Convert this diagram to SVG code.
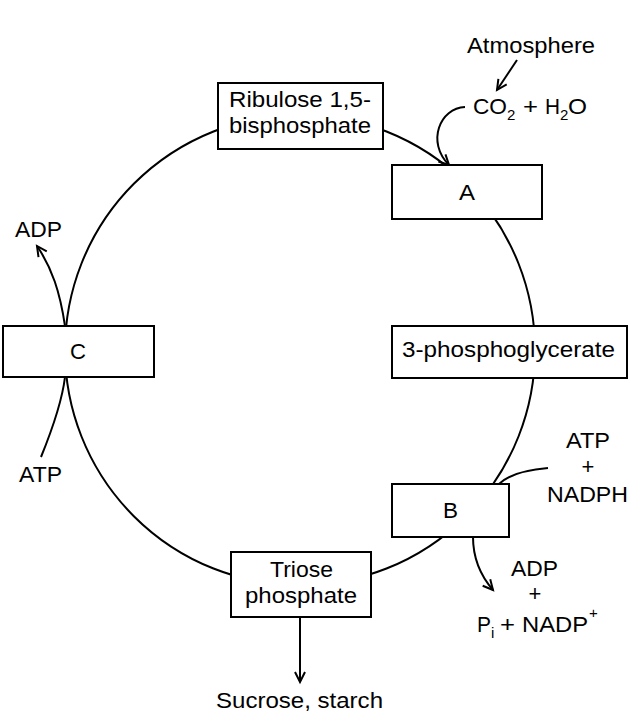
<svg xmlns="http://www.w3.org/2000/svg" width="641" height="721" viewBox="0 0 641 721">
<defs>
<style>
.box{fill:#fff;stroke:#000;stroke-width:2}
.ln{fill:none;stroke:#000;stroke-width:2}
text{font-family:"Liberation Sans",Arial,sans-serif;font-size:22px;fill:#000}
.c{text-anchor:middle}
.s{font-size:15px}
</style>
<marker id="ah" markerUnits="userSpaceOnUse" markerWidth="16" markerHeight="16" refX="11" refY="6" orient="auto" viewBox="0 0 16 12">
<path d="M1,1 L11,6 L1,11" fill="none" stroke="#000" stroke-width="2"/>
</marker>
</defs>
<rect width="641" height="721" fill="#fff"/>
<g id="connectors">
<circle class="ln" cx="300" cy="350" r="235"/>
<path class="ln" d="M517,60 L497,90" marker-end="url(#ah)"/>
<path class="ln" d="M465,107 C440,108 426,142 449,165" marker-end="url(#ah)"/>
<path class="ln" d="M65,326 C60,292 52,268 37,246" marker-end="url(#ah)"/>
<path class="ln" d="M41,457 C52,430 62,402 65,377"/>
<path class="ln" d="M548,468 C525,470 508,475 499,484"/>
<path class="ln" d="M473,537 C473,558 480,575 493,590" marker-end="url(#ah)"/>
<path class="ln" d="M300,617 L300,682" marker-end="url(#ah)"/>
</g>
<g id="ribulose">
<rect class="box" x="218" y="83" width="165" height="66"/>
<text x="229" y="107" textLength="142" lengthAdjust="spacingAndGlyphs">Ribulose 1,5-</text>
<text x="229" y="133" textLength="142" lengthAdjust="spacingAndGlyphs">bisphosphate</text>
</g>
<g id="A">
<rect class="box" x="392" y="165" width="150" height="54"/>
<text x="459" y="200" textLength="16" lengthAdjust="spacingAndGlyphs">A</text>
</g>
<g id="pga">
<rect class="box" x="392" y="326" width="235" height="52"/>
<text x="402" y="357" textLength="213" lengthAdjust="spacingAndGlyphs">3-phosphoglycerate</text>
</g>
<g id="B">
<rect class="box" x="392" y="484" width="117" height="53"/>
<text x="443" y="518" textLength="15" lengthAdjust="spacingAndGlyphs">B</text>
</g>
<g id="triose">
<rect class="box" x="231" y="552" width="140" height="65"/>
<text x="270" y="577" textLength="63" lengthAdjust="spacingAndGlyphs">Triose</text>
<text x="245" y="603" textLength="112" lengthAdjust="spacingAndGlyphs">phosphate</text>
</g>
<g id="C">
<rect class="box" x="3" y="326" width="151" height="51"/>
<text x="70" y="359" textLength="16" lengthAdjust="spacingAndGlyphs">C</text>
</g>
<g id="labels">
<text x="467" y="53" textLength="128" lengthAdjust="spacingAndGlyphs">Atmosphere</text>
<text x="473" y="114" textLength="34" lengthAdjust="spacingAndGlyphs">CO</text>
<text class="s" x="507" y="120">2</text>
<text x="523" y="114" textLength="15" lengthAdjust="spacingAndGlyphs">+</text>
<text x="545" y="114" textLength="15" lengthAdjust="spacingAndGlyphs">H</text>
<text class="s" x="560" y="120">2</text>
<text x="568" y="114" textLength="19" lengthAdjust="spacingAndGlyphs">O</text>
<text x="15" y="237" textLength="47" lengthAdjust="spacingAndGlyphs">ADP</text>
<text x="19" y="482" textLength="43" lengthAdjust="spacingAndGlyphs">ATP</text>
<text x="566" y="448" textLength="44" lengthAdjust="spacingAndGlyphs">ATP</text>
<text class="c" x="588" y="474">+</text>
<text x="547" y="502" textLength="81" lengthAdjust="spacingAndGlyphs">NADPH</text>
<text x="511" y="576" textLength="47" lengthAdjust="spacingAndGlyphs">ADP</text>
<text class="c" x="535" y="601">+</text>
<text x="477" y="632" textLength="14" lengthAdjust="spacingAndGlyphs">P</text>
<text class="s" x="491" y="638">i</text>
<text x="500" y="632" textLength="15" lengthAdjust="spacingAndGlyphs">+</text>
<text x="522" y="632" textLength="66" lengthAdjust="spacingAndGlyphs">NADP</text>
<text class="s" x="589" y="618">+</text>
<text x="216" y="708" textLength="167" lengthAdjust="spacingAndGlyphs">Sucrose, starch</text>
</g>
</svg>
